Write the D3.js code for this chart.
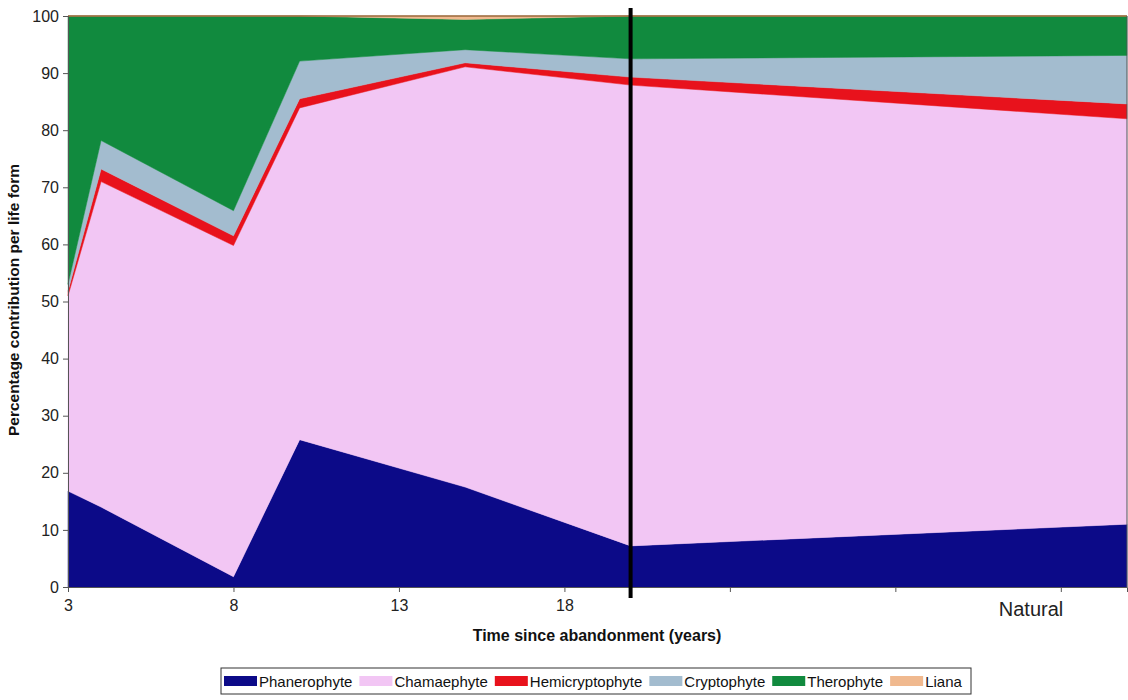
<!DOCTYPE html>
<html>
<head>
<meta charset="utf-8">
<script src="https://cdn.jsdelivr.net/npm/d3@7"></script>
<style>
  body { margin: 0; background: #fff; }
  svg { display: block; font-family: "Liberation Sans", Arial, sans-serif; }
</style>
</head>
<body>
<svg id="chart" width="1128" height="700"></svg>
<script>
// ---- data ----
const years = [3, 4, 8, 10, 15, 20, 35];
const seriesNames = ["Phanerophyte", "Chamaephyte", "Hemicryptophyte", "Cryptophyte", "Therophyte", "Liana"];
const phanerophyte    = [16.8, 14.0, 1.8, 25.8, 17.5, 7.2, 11.0];
const chamaephyte     = [34.2, 57.0, 58.0, 58.1, 73.6, 80.7, 71.0];
const hemicryptophyte = [0.8, 2.2, 1.7, 1.6, 0.7, 1.4, 2.6];
const cryptophyte     = [1.2, 5.0, 4.4, 6.6, 2.3, 3.2, 8.5];
const therophyte      = [47.0, 21.8, 34.1, 7.9, 5.3, 7.5, 6.9];
const liana           = [0.0, 0.0, 0.0, 0.0, 0.6, 0.0, 0.0];
const colors = ["#0c0a88", "#f2c6f4", "#e8121c", "#a3bccf", "#118a3e", "#f0b98f"];
const yTicks = [0, 10, 20, 30, 40, 50, 60, 70, 80, 90, 100];
const xTicks = [3, 8, 13, 18, 23, 28, 33];
const xTickLabels = ["3", "8", "13", "18", "", "", ""];
const naturalLabel = "Natural";
const naturalAt = 32.1;
const markerYear = 20;
const xTitle = "Time since abandonment (years)";
const yTitle = "Percentage contribution per life form";

// ---- build table ----
const cols = [phanerophyte, chamaephyte, hemicryptophyte, cryptophyte, therophyte, liana];
const table = years.map((yr, i) => {
  const row = { year: yr };
  seriesNames.forEach((n, k) => row[n] = cols[k][i]);
  return row;
});

const svg = d3.select("#chart");
const pLeft = 68, pRight = 1127, pTop = 16, pBottom = 587;
const x = d3.scaleLinear().domain([3, 35]).range([pLeft, pRight]);
const y = d3.scaleLinear().domain([0, 100]).range([pBottom, pTop]);

const stacked = d3.stack().keys(seriesNames)(table);
const area = d3.area()
  .x(d => x(d.data.year))
  .y0(d => y(d[0]))
  .y1(d => y(Math.min(100, d[1])));

svg.append("g").selectAll("path")
  .data(stacked)
  .join("path")
  .attr("d", area)
  .attr("fill", (d, i) => colors[i])
  .attr("stroke", (d, i) => colors[i])
  .attr("stroke-width", 0.5);

// top border line of liana
const topLine = d3.line().x(d => x(d.data.year)).y(d => y(Math.min(100, d[1])));
svg.append("path").datum(stacked[5]).attr("d", topLine)
  .attr("fill", "none").attr("stroke", "#9a6a3c").attr("stroke-width", 1.5);

// right edge
svg.append("line").attr("x1", pRight).attr("x2", pRight).attr("y1", pTop).attr("y2", pBottom)
  .attr("stroke", "#555").attr("stroke-width", 1);

// axes
const yAxis = d3.axisLeft(y).tickValues(yTicks).tickSize(5).tickPadding(4);
const gy = svg.append("g").attr("transform", `translate(${pLeft},0)`).call(yAxis);
gy.select(".domain").attr("stroke", "#555");
gy.selectAll(".tick line").attr("stroke", "#555");
gy.selectAll(".tick text").attr("font-size", 16).attr("fill", "#222")
  .attr("font-family", "Liberation Sans, Arial, sans-serif");

const xAxis = d3.axisBottom(x).tickValues(xTicks).tickSize(5).tickPadding(8)
  .tickFormat((d, i) => xTickLabels[i]);
const gx = svg.append("g").attr("transform", `translate(0,${pBottom})`).call(xAxis);
gx.select(".domain").attr("stroke", "#555");
gx.selectAll(".tick line").attr("stroke", "#555");
gx.selectAll(".tick text").attr("font-size", 16).attr("fill", "#222")
  .attr("font-family", "Liberation Sans, Arial, sans-serif");

svg.append("text").attr("x", x(naturalAt)).attr("y", 616)
  .attr("text-anchor", "middle").attr("font-size", 20).attr("fill", "#222")
  .text(naturalLabel);

// vertical marker
svg.append("line").attr("x1", x(markerYear)).attr("x2", x(markerYear))
  .attr("y1", 8).attr("y2", 598).attr("stroke", "#000").attr("stroke-width", 4);

// titles
svg.append("text").attr("x", 597).attr("y", 641).attr("text-anchor", "middle")
  .attr("font-size", 16).attr("font-weight", "bold").attr("fill", "#111").text(xTitle);
svg.append("text").attr("transform", "translate(19,300) rotate(-90)")
  .attr("text-anchor", "middle").attr("font-size", 15.5).attr("font-weight", "bold")
  .attr("fill", "#111").text(yTitle);

// legend
const lg = svg.append("g");
lg.append("rect").attr("x", 221).attr("y", 668).attr("width", 750).attr("height", 26)
  .attr("fill", "#fff").attr("stroke", "#333").attr("stroke-width", 1);
let lx = 224;
seriesNames.forEach((n, i) => {
  lg.append("rect").attr("x", lx).attr("y", 676).attr("width", 33).attr("height", 10)
    .attr("fill", colors[i]);
  const t = lg.append("text").attr("x", lx + 35).attr("y", 687)
    .attr("font-size", 15).attr("fill", "#111").text(n);
  const w = t.node().getComputedTextLength();
  lx += 35 + w + 7;
});
</script>
</body>
</html>
